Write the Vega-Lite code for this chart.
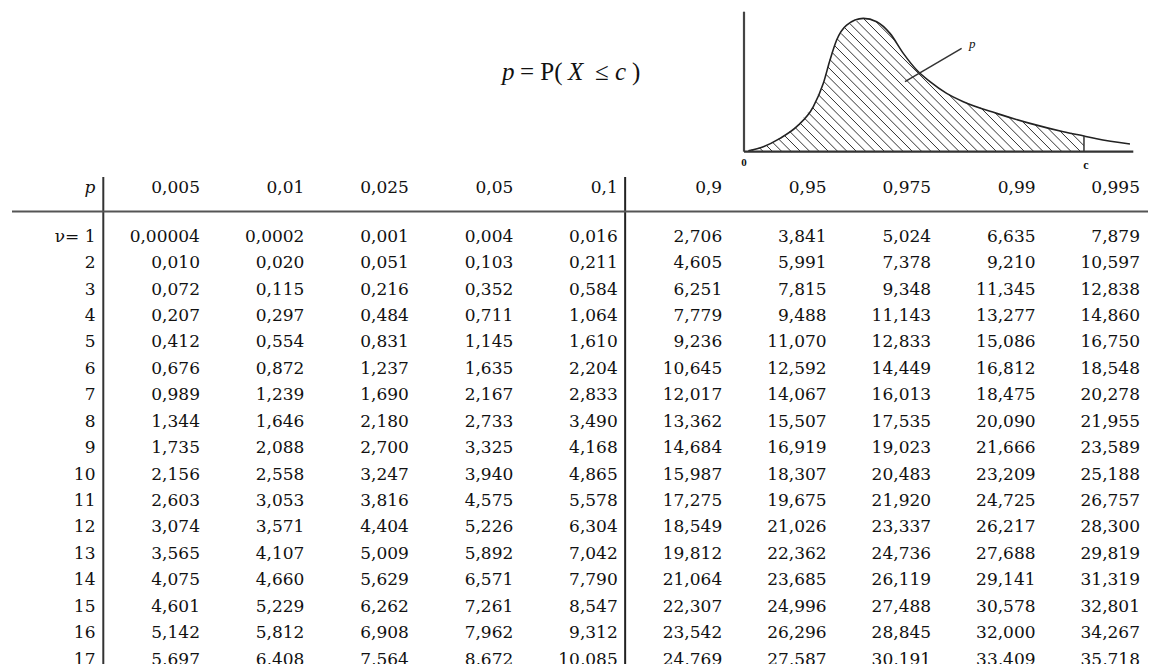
{
  "$schema": "https://vega.github.io/schema/vega-lite/v6.json",
  "width": 1152,
  "height": 664,
  "padding": 0,
  "autosize": {"type": "none"},
  "background": "white",
  "config": {"view": {"stroke": null}},
  "datasets": {
    "table": [
      {"nu":1,"p":0.005,"c":0.00004},{"nu":1,"p":0.01,"c":0.0002},{"nu":1,"p":0.025,"c":0.001},{"nu":1,"p":0.05,"c":0.004},{"nu":1,"p":0.1,"c":0.016},{"nu":1,"p":0.9,"c":2.706},{"nu":1,"p":0.95,"c":3.841},{"nu":1,"p":0.975,"c":5.024},{"nu":1,"p":0.99,"c":6.635},{"nu":1,"p":0.995,"c":7.879},
      {"nu":2,"p":0.005,"c":0.010},{"nu":2,"p":0.01,"c":0.020},{"nu":2,"p":0.025,"c":0.051},{"nu":2,"p":0.05,"c":0.103},{"nu":2,"p":0.1,"c":0.211},{"nu":2,"p":0.9,"c":4.605},{"nu":2,"p":0.95,"c":5.991},{"nu":2,"p":0.975,"c":7.378},{"nu":2,"p":0.99,"c":9.210},{"nu":2,"p":0.995,"c":10.597},
      {"nu":3,"p":0.005,"c":0.072},{"nu":3,"p":0.01,"c":0.115},{"nu":3,"p":0.025,"c":0.216},{"nu":3,"p":0.05,"c":0.352},{"nu":3,"p":0.1,"c":0.584},{"nu":3,"p":0.9,"c":6.251},{"nu":3,"p":0.95,"c":7.815},{"nu":3,"p":0.975,"c":9.348},{"nu":3,"p":0.99,"c":11.345},{"nu":3,"p":0.995,"c":12.838},
      {"nu":4,"p":0.005,"c":0.207},{"nu":4,"p":0.01,"c":0.297},{"nu":4,"p":0.025,"c":0.484},{"nu":4,"p":0.05,"c":0.711},{"nu":4,"p":0.1,"c":1.064},{"nu":4,"p":0.9,"c":7.779},{"nu":4,"p":0.95,"c":9.488},{"nu":4,"p":0.975,"c":11.143},{"nu":4,"p":0.99,"c":13.277},{"nu":4,"p":0.995,"c":14.860},
      {"nu":5,"p":0.005,"c":0.412},{"nu":5,"p":0.01,"c":0.554},{"nu":5,"p":0.025,"c":0.831},{"nu":5,"p":0.05,"c":1.145},{"nu":5,"p":0.1,"c":1.610},{"nu":5,"p":0.9,"c":9.236},{"nu":5,"p":0.95,"c":11.070},{"nu":5,"p":0.975,"c":12.833},{"nu":5,"p":0.99,"c":15.086},{"nu":5,"p":0.995,"c":16.750},
      {"nu":6,"p":0.005,"c":0.676},{"nu":6,"p":0.01,"c":0.872},{"nu":6,"p":0.025,"c":1.237},{"nu":6,"p":0.05,"c":1.635},{"nu":6,"p":0.1,"c":2.204},{"nu":6,"p":0.9,"c":10.645},{"nu":6,"p":0.95,"c":12.592},{"nu":6,"p":0.975,"c":14.449},{"nu":6,"p":0.99,"c":16.812},{"nu":6,"p":0.995,"c":18.548},
      {"nu":7,"p":0.005,"c":0.989},{"nu":7,"p":0.01,"c":1.239},{"nu":7,"p":0.025,"c":1.690},{"nu":7,"p":0.05,"c":2.167},{"nu":7,"p":0.1,"c":2.833},{"nu":7,"p":0.9,"c":12.017},{"nu":7,"p":0.95,"c":14.067},{"nu":7,"p":0.975,"c":16.013},{"nu":7,"p":0.99,"c":18.475},{"nu":7,"p":0.995,"c":20.278},
      {"nu":8,"p":0.005,"c":1.344},{"nu":8,"p":0.01,"c":1.646},{"nu":8,"p":0.025,"c":2.180},{"nu":8,"p":0.05,"c":2.733},{"nu":8,"p":0.1,"c":3.490},{"nu":8,"p":0.9,"c":13.362},{"nu":8,"p":0.95,"c":15.507},{"nu":8,"p":0.975,"c":17.535},{"nu":8,"p":0.99,"c":20.090},{"nu":8,"p":0.995,"c":21.955},
      {"nu":9,"p":0.005,"c":1.735},{"nu":9,"p":0.01,"c":2.088},{"nu":9,"p":0.025,"c":2.700},{"nu":9,"p":0.05,"c":3.325},{"nu":9,"p":0.1,"c":4.168},{"nu":9,"p":0.9,"c":14.684},{"nu":9,"p":0.95,"c":16.919},{"nu":9,"p":0.975,"c":19.023},{"nu":9,"p":0.99,"c":21.666},{"nu":9,"p":0.995,"c":23.589},
      {"nu":10,"p":0.005,"c":2.156},{"nu":10,"p":0.01,"c":2.558},{"nu":10,"p":0.025,"c":3.247},{"nu":10,"p":0.05,"c":3.940},{"nu":10,"p":0.1,"c":4.865},{"nu":10,"p":0.9,"c":15.987},{"nu":10,"p":0.95,"c":18.307},{"nu":10,"p":0.975,"c":20.483},{"nu":10,"p":0.99,"c":23.209},{"nu":10,"p":0.995,"c":25.188},
      {"nu":11,"p":0.005,"c":2.603},{"nu":11,"p":0.01,"c":3.053},{"nu":11,"p":0.025,"c":3.816},{"nu":11,"p":0.05,"c":4.575},{"nu":11,"p":0.1,"c":5.578},{"nu":11,"p":0.9,"c":17.275},{"nu":11,"p":0.95,"c":19.675},{"nu":11,"p":0.975,"c":21.920},{"nu":11,"p":0.99,"c":24.725},{"nu":11,"p":0.995,"c":26.757},
      {"nu":12,"p":0.005,"c":3.074},{"nu":12,"p":0.01,"c":3.571},{"nu":12,"p":0.025,"c":4.404},{"nu":12,"p":0.05,"c":5.226},{"nu":12,"p":0.1,"c":6.304},{"nu":12,"p":0.9,"c":18.549},{"nu":12,"p":0.95,"c":21.026},{"nu":12,"p":0.975,"c":23.337},{"nu":12,"p":0.99,"c":26.217},{"nu":12,"p":0.995,"c":28.300},
      {"nu":13,"p":0.005,"c":3.565},{"nu":13,"p":0.01,"c":4.107},{"nu":13,"p":0.025,"c":5.009},{"nu":13,"p":0.05,"c":5.892},{"nu":13,"p":0.1,"c":7.042},{"nu":13,"p":0.9,"c":19.812},{"nu":13,"p":0.95,"c":22.362},{"nu":13,"p":0.975,"c":24.736},{"nu":13,"p":0.99,"c":27.688},{"nu":13,"p":0.995,"c":29.819},
      {"nu":14,"p":0.005,"c":4.075},{"nu":14,"p":0.01,"c":4.660},{"nu":14,"p":0.025,"c":5.629},{"nu":14,"p":0.05,"c":6.571},{"nu":14,"p":0.1,"c":7.790},{"nu":14,"p":0.9,"c":21.064},{"nu":14,"p":0.95,"c":23.685},{"nu":14,"p":0.975,"c":26.119},{"nu":14,"p":0.99,"c":29.141},{"nu":14,"p":0.995,"c":31.319},
      {"nu":15,"p":0.005,"c":4.601},{"nu":15,"p":0.01,"c":5.229},{"nu":15,"p":0.025,"c":6.262},{"nu":15,"p":0.05,"c":7.261},{"nu":15,"p":0.1,"c":8.547},{"nu":15,"p":0.9,"c":22.307},{"nu":15,"p":0.95,"c":24.996},{"nu":15,"p":0.975,"c":27.488},{"nu":15,"p":0.99,"c":30.578},{"nu":15,"p":0.995,"c":32.801},
      {"nu":16,"p":0.005,"c":5.142},{"nu":16,"p":0.01,"c":5.812},{"nu":16,"p":0.025,"c":6.908},{"nu":16,"p":0.05,"c":7.962},{"nu":16,"p":0.1,"c":9.312},{"nu":16,"p":0.9,"c":23.542},{"nu":16,"p":0.95,"c":26.296},{"nu":16,"p":0.975,"c":28.845},{"nu":16,"p":0.99,"c":32.000},{"nu":16,"p":0.995,"c":34.267},
      {"nu":17,"p":0.005,"c":5.697},{"nu":17,"p":0.01,"c":6.408},{"nu":17,"p":0.025,"c":7.564},{"nu":17,"p":0.05,"c":8.672},{"nu":17,"p":0.1,"c":10.085},{"nu":17,"p":0.9,"c":24.769},{"nu":17,"p":0.95,"c":27.587},{"nu":17,"p":0.975,"c":30.191},{"nu":17,"p":0.99,"c":33.409},{"nu":17,"p":0.995,"c":35.718}
    ],
    "curve": [
      {"x":0.13,"y":0.03},{"x":0.58,"y":0.15},{"x":1.08,"y":0.40},{"x":1.58,"y":0.75},{"x":2.08,"y":1.35},{"x":2.38,"y":2.05},{"x":2.58,"y":2.75},{"x":2.78,"y":3.35},{"x":3.08,"y":3.80},{"x":3.58,"y":4.00},{"x":3.98,"y":3.90},{"x":4.38,"y":3.55},{"x":4.78,"y":2.95},{"x":5.18,"y":2.45},{"x":5.58,"y":2.10},{"x":6.08,"y":1.75},{"x":6.58,"y":1.50},{"x":7.58,"y":1.15},{"x":8.58,"y":0.85},{"x":9.58,"y":0.60},{"x":10.20,"y":0.47},{"x":10.58,"y":0.39},{"x":11.58,"y":0.23}
    ],
    "hatch": [
      {"x":0.24,"y":0.06,"x2":0.30,"y2":0},{"x":0.46,"y":0.12,"x2":0.58,"y2":0},{"x":0.67,"y":0.19,"x2":0.86,"y2":0},{"x":0.85,"y":0.29,"x2":1.14,"y2":0},{"x":1.04,"y":0.38,"x2":1.42,"y2":0},{"x":1.21,"y":0.49,"x2":1.70,"y2":0},{"x":1.37,"y":0.61,"x2":1.98,"y2":0},{"x":1.54,"y":0.72,"x2":2.26,"y2":0},{"x":1.68,"y":0.86,"x2":2.54,"y2":0},{"x":1.80,"y":1.02,"x2":2.82,"y2":0},{"x":1.93,"y":1.17,"x2":3.10,"y2":0},{"x":2.06,"y":1.32,"x2":3.38,"y2":0},{"x":2.15,"y":1.51,"x2":3.66,"y2":0},{"x":2.23,"y":1.71,"x2":3.94,"y2":0},{"x":2.32,"y":1.90,"x2":4.22,"y2":0},{"x":2.40,"y":2.10,"x2":4.50,"y2":0},{"x":2.46,"y":2.32,"x2":4.78,"y2":0},{"x":2.52,"y":2.54,"x2":5.06,"y2":0},{"x":2.58,"y":2.76,"x2":5.34,"y2":0},{"x":2.65,"y":2.97,"x2":5.62,"y2":0},{"x":2.72,"y":3.18,"x2":5.90,"y2":0},{"x":2.80,"y":3.38,"x2":6.18,"y2":0},{"x":2.91,"y":3.55,"x2":6.46,"y2":0},{"x":3.02,"y":3.72,"x2":6.74,"y2":0},{"x":3.18,"y":3.84,"x2":7.02,"y2":0},{"x":3.38,"y":3.92,"x2":7.30,"y2":0},{"x":3.58,"y":4.00,"x2":7.58,"y2":0},{"x":3.95,"y":3.91,"x2":4.52,"y2":3.34},{"x":6.14,"y":1.72,"x2":7.86,"y2":0},{"x":6.67,"y":1.47,"x2":8.14,"y2":0},{"x":7.10,"y":1.32,"x2":8.42,"y2":0},{"x":7.53,"y":1.17,"x2":8.70,"y2":0},{"x":7.94,"y":1.04,"x2":8.98,"y2":0},{"x":8.34,"y":0.92,"x2":9.26,"y2":0},{"x":8.73,"y":0.81,"x2":9.54,"y2":0},{"x":9.10,"y":0.72,"x2":9.82,"y2":0},{"x":9.47,"y":0.63,"x2":10.10,"y2":0},{"x":9.83,"y":0.55,"x2":10.20,"y2":0.18}
    ]
  },
  "layer": [
    {
      "data": {"name": "table"},
      "transform": [
        {"calculate": "replace('' + datum.p, '.', ',')", "as": "col"},
        {"calculate": "'' + datum.nu", "as": "row"},
        {"calculate": "replace(format(datum.c, datum.c < 0.0001 ? '.5f' : (datum.c < 0.001 ? '.4f' : '.3f')), '.', ',')", "as": "txt"},
        {"calculate": "datum.nu == 1 ? 'ν= 1' : '' + datum.nu", "as": "lab"}
      ],
      "layer": [
        {
          "mark": {"type": "text", "align": "right", "baseline": "alphabetic", "font": "DejaVu Serif", "fontSize": 17, "fill": "#111"},
          "encoding": {
            "x": {"field": "col", "type": "nominal", "axis": null, "scale": {"type": "point", "domain": ["ν","0,005","0,01","0,025","0,05","0,1","0,9","0,95","0,975","0,99","0,995"], "range": [95.5, 1140], "padding": 0}},
            "y": {"field": "row", "type": "nominal", "axis": null, "scale": {"type": "point", "domain": ["p","_","1","2","3","4","5","6","7","8","9","10","11","12","13","14","15","16","17"], "range": [188.9, 664.5], "padding": 0}},
            "text": {"field": "txt", "type": "nominal"}
          }
        },
        {
          "transform": [{"filter": "datum.nu == 1"}],
          "mark": {"type": "text", "align": "right", "baseline": "alphabetic", "font": "DejaVu Serif", "fontSize": 17, "fill": "#111", "dy": 3.8},
          "encoding": {
            "x": {"field": "col", "type": "nominal", "axis": null},
            "y": {"datum": "p", "type": "nominal", "axis": null},
            "text": {"field": "col", "type": "nominal"}
          }
        },
        {
          "transform": [{"filter": "datum.p == 0.005"}],
          "mark": {"type": "text", "align": "right", "baseline": "alphabetic", "font": "DejaVu Serif", "fontSize": 17, "fill": "#111"},
          "encoding": {
            "x": {"datum": "ν", "type": "nominal", "axis": null},
            "y": {"field": "row", "type": "nominal", "axis": null},
            "text": {"field": "lab", "type": "nominal"}
          }
        },
        {
          "data": {"values": [{}]},
          "mark": {"type": "text", "align": "right", "baseline": "alphabetic", "font": "DejaVu Serif", "fontStyle": "italic", "fontSize": 17, "fill": "#111", "dy": 3.8, "text": "p"},
          "encoding": {
            "x": {"datum": "ν", "type": "nominal", "axis": null},
            "y": {"datum": "p", "type": "nominal", "axis": null}
          }
        },
        {
          "data": {"values": [{}]},
          "mark": {"type": "rule", "stroke": "#333", "strokeWidth": 2, "xOffset": 7.8, "yOffset": -12, "y2Offset": 6},
          "encoding": {
            "x": {"datum": "ν", "type": "nominal", "axis": null},
            "y": {"datum": "p", "type": "nominal", "axis": null},
            "y2": {"datum": "17"}
          }
        },
        {
          "data": {"values": [{}]},
          "mark": {"type": "rule", "stroke": "#222", "strokeWidth": 2, "xOffset": 7.4, "yOffset": -12, "y2Offset": 6},
          "encoding": {
            "x": {"datum": "0,1", "type": "nominal", "axis": null},
            "y": {"datum": "p", "type": "nominal", "axis": null},
            "y2": {"datum": "17"}
          }
        },
        {
          "data": {"values": [{}]},
          "mark": {"type": "rule", "stroke": "#555", "strokeWidth": 2, "xOffset": -83.5, "x2Offset": 8, "yOffset": -3.8},
          "encoding": {
            "x": {"datum": "ν", "type": "nominal", "axis": null},
            "x2": {"datum": "0,995"},
            "y": {"datum": "_", "type": "nominal", "axis": null}
          }
        }
      ]
    },
    {
      "layer": [
        {
          "data": {"name": "hatch"},
          "mark": {"type": "rule", "stroke": "#333", "strokeWidth": 1},
          "encoding": {
            "x": {"field": "x", "type": "quantitative", "axis": null, "scale": {"type": "linear", "domain": [0, 11.68], "range": [744, 1133.3], "nice": false, "zero": false}},
            "y": {"field": "y", "type": "quantitative", "axis": null, "scale": {"type": "linear", "domain": [0, 4.2], "range": [151.7, 11.7], "nice": false, "zero": false}},
            "x2": {"field": "x2"},
            "y2": {"field": "y2"}
          }
        },
        {
          "data": {"name": "curve"},
          "mark": {"type": "line", "stroke": "#222", "strokeWidth": 1.6, "interpolate": "monotone"},
          "encoding": {
            "x": {"field": "x", "type": "quantitative", "axis": null},
            "y": {"field": "y", "type": "quantitative", "axis": null}
          }
        },
        {
          "data": {"values": [{}]},
          "mark": {"type": "rule", "stroke": "#444", "strokeWidth": 2.2},
          "encoding": {
            "x": {"datum": 0, "type": "quantitative", "axis": null},
            "y": {"datum": 0, "type": "quantitative", "axis": null},
            "y2": {"datum": 4.2}
          }
        },
        {
          "data": {"values": [{}]},
          "mark": {"type": "rule", "stroke": "#333", "strokeWidth": 2.2},
          "encoding": {
            "x": {"datum": 0, "type": "quantitative", "axis": null},
            "x2": {"datum": 11.68},
            "y": {"datum": 0, "type": "quantitative", "axis": null}
          }
        },
        {
          "data": {"values": [{}]},
          "mark": {"type": "rule", "stroke": "#333", "strokeWidth": 1.5},
          "encoding": {
            "x": {"datum": 10.2, "type": "quantitative", "axis": null},
            "y": {"datum": 0, "type": "quantitative", "axis": null},
            "y2": {"datum": 0.47}
          }
        },
        {
          "data": {"values": [{}]},
          "mark": {"type": "rule", "stroke": "#333", "strokeWidth": 1.5},
          "encoding": {
            "x": {"datum": 6.53, "type": "quantitative", "axis": null},
            "y": {"datum": 3.10, "type": "quantitative", "axis": null},
            "x2": {"datum": 4.83},
            "y2": {"datum": 2.10}
          }
        },
        {
          "data": {"values": [{}]},
          "mark": {"type": "text", "text": "p", "font": "Liberation Serif", "fontStyle": "italic", "fontSize": 13, "fill": "#111", "align": "center", "baseline": "middle"},
          "encoding": {
            "x": {"datum": 6.85, "type": "quantitative", "axis": null},
            "y": {"datum": 3.24, "type": "quantitative", "axis": null}
          }
        },
        {
          "data": {"values": [{}]},
          "mark": {"type": "text", "text": "0", "font": "Liberation Serif", "fontWeight": "bold", "fontSize": 11, "fill": "#111", "align": "center", "baseline": "middle"},
          "encoding": {
            "x": {"datum": 0, "type": "quantitative", "axis": null},
            "y": {"datum": -0.33, "type": "quantitative", "axis": null}
          }
        },
        {
          "data": {"values": [{}]},
          "mark": {"type": "text", "text": "c", "font": "Liberation Serif", "fontWeight": "bold", "fontSize": 12, "fill": "#111", "align": "center", "baseline": "middle"},
          "encoding": {
            "x": {"datum": 10.26, "type": "quantitative", "axis": null},
            "y": {"datum": -0.40, "type": "quantitative", "axis": null}
          }
        },
        {
          "data": {"values": [{}]},
          "mark": {"type": "text", "text": "p", "font": "Liberation Serif", "fontStyle": "italic", "fontSize": 25, "fill": "#111", "align": "left", "baseline": "alphabetic"},
          "encoding": {
            "x": {"datum": -7.26, "type": "quantitative", "axis": null},
            "y": {"datum": 2.15, "type": "quantitative", "axis": null}
          }
        },
        {
          "data": {"values": [{}]},
          "mark": {"type": "text", "text": "= P(", "font": "Liberation Serif", "fontSize": 25, "fill": "#111", "align": "left", "baseline": "alphabetic"},
          "encoding": {
            "x": {"datum": -6.72, "type": "quantitative", "axis": null},
            "y": {"datum": 2.15, "type": "quantitative", "axis": null}
          }
        },
        {
          "data": {"values": [{}]},
          "mark": {"type": "text", "text": "X", "font": "Liberation Serif", "fontStyle": "italic", "fontSize": 25, "fill": "#111", "align": "left", "baseline": "alphabetic"},
          "encoding": {
            "x": {"datum": -5.28, "type": "quantitative", "axis": null},
            "y": {"datum": 2.15, "type": "quantitative", "axis": null}
          }
        },
        {
          "data": {"values": [{}]},
          "mark": {"type": "text", "text": "≤", "font": "Liberation Serif", "fontSize": 25, "fill": "#111", "align": "left", "baseline": "alphabetic"},
          "encoding": {
            "x": {"datum": -4.47, "type": "quantitative", "axis": null},
            "y": {"datum": 2.15, "type": "quantitative", "axis": null}
          }
        },
        {
          "data": {"values": [{}]},
          "mark": {"type": "text", "text": "c", "font": "Liberation Serif", "fontStyle": "italic", "fontSize": 25, "fill": "#111", "align": "left", "baseline": "alphabetic"},
          "encoding": {
            "x": {"datum": -3.87, "type": "quantitative", "axis": null},
            "y": {"datum": 2.15, "type": "quantitative", "axis": null}
          }
        },
        {
          "data": {"values": [{}]},
          "mark": {"type": "text", "text": ")", "font": "Liberation Serif", "fontSize": 25, "fill": "#111", "align": "left", "baseline": "alphabetic"},
          "encoding": {
            "x": {"datum": -3.36, "type": "quantitative", "axis": null},
            "y": {"datum": 2.15, "type": "quantitative", "axis": null}
          }
        }
      ]
    }
  ],
  "resolve": {"scale": {"x": "independent", "y": "independent"}}
}
